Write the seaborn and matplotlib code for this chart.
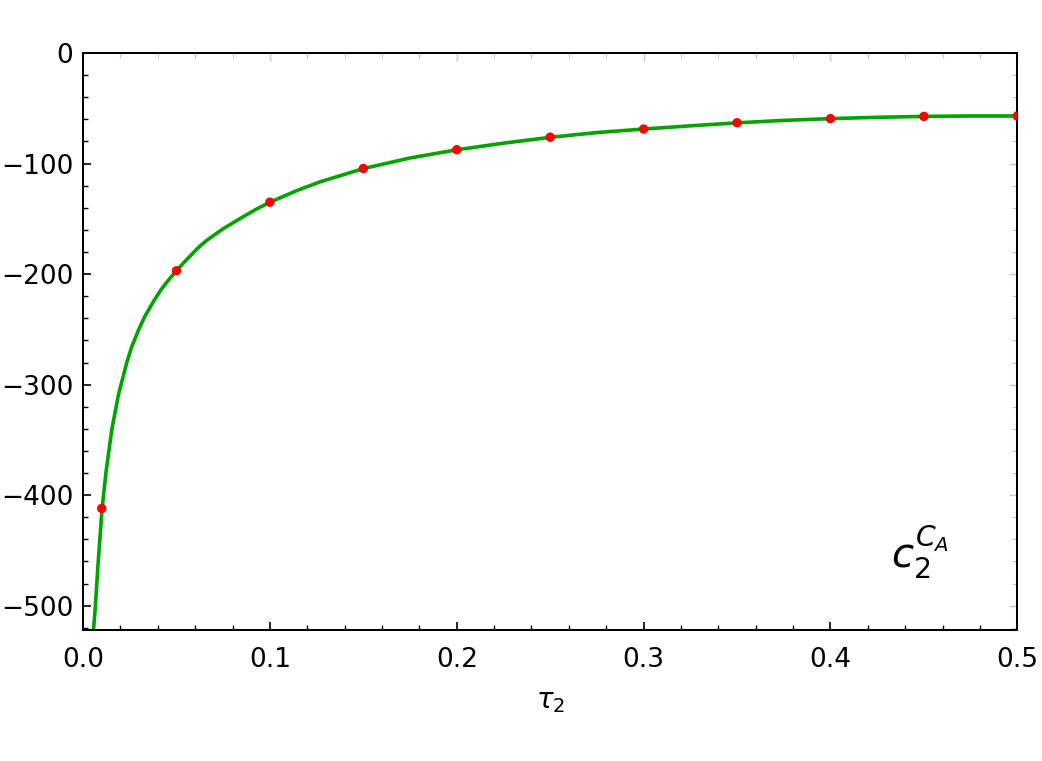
import matplotlib
matplotlib.use("Agg")
import matplotlib.pyplot as plt
import seaborn as sns
import pandas as pd
from matplotlib.ticker import MultipleLocator, FuncFormatter

# curve values
curve_tau = [0.0056, 0.0066, 0.0080, 0.0102, 0.0123, 0.0154, 0.0189, 0.0234,
             0.0260, 0.0296, 0.0330, 0.0376, 0.0420, 0.0466, 0.050, 0.0540,
             0.0580, 0.0620, 0.0662, 0.0750, 0.084, 0.092, 0.100, 0.1144,
             0.127, 0.150, 0.175, 0.200, 0.225, 0.250, 0.275, 0.300, 0.325,
             0.350, 0.375, 0.400, 0.425, 0.450, 0.475, 0.500]
curve_val = [-522, -500, -463, -412, -379, -340.5, -309.5, -280,
             -266, -251, -238.5, -225, -213.5, -203.6, -197, -189.5,
             -182.5, -175.5, -169.5, -159, -149.8, -142, -135, -124.5,
             -116.5, -104.6, -95.0, -87.6, -81.6, -76.3, -72.0, -68.8, -65.9,
             -63.2, -61.0, -59.4, -58.2, -57.4, -57.0, -57.0]

# red points
pts_tau = [0.01, 0.05, 0.10, 0.15, 0.20, 0.25, 0.30, 0.35, 0.40, 0.45, 0.50]
pts_val = [-412, -197, -135, -104.5, -87.5, -76.2, -68.8, -63.1, -59.4, -57.4, -57]

sns.set_theme(style="ticks")
plt.rcParams['font.family'] = ['DejaVu Sans']
plt.rcParams['mathtext.fontset'] = 'dejavusans'
plt.rcParams['text.color'] = 'black'
plt.rcParams['axes.labelcolor'] = 'black'

fig = plt.figure(figsize=(10.42, 7.61), dpi=100)
ax = fig.add_axes([0.0797, 0.1721, 0.8966, 0.7583])

curve_df = pd.DataFrame({"tau": curve_tau, "val": curve_val})
pts_df = pd.DataFrame({"tau": pts_tau, "val": pts_val})

sns.lineplot(data=curve_df, x="tau", y="val", ax=ax, color="#00a300",
             linewidth=2.6, sort=True, estimator=None)
sns.scatterplot(data=pts_df, x="tau", y="val", ax=ax, color="#ff0000",
                s=46, edgecolor="none", zorder=5)

ax.set_xlim(0, 0.5)
ax.set_ylim(-522, 0)
ax.xaxis.set_major_locator(MultipleLocator(0.1))
ax.xaxis.set_minor_locator(MultipleLocator(0.02))
ax.yaxis.set_major_locator(MultipleLocator(100))
ax.yaxis.set_minor_locator(MultipleLocator(20))
ax.xaxis.set_major_formatter(FuncFormatter(lambda v, p: f"{v:.1f}"))
ax.yaxis.set_major_formatter(FuncFormatter(lambda v, p: f"{int(round(v))}".replace("-", "\u2212")))

for s in ax.spines.values():
    s.set_linewidth(1.45)
    s.set_color("black")

ax.tick_params(axis="both", which="both", direction="in", bottom=True, left=True,
               top=False, right=False, colors="black", labelsize=19)
ax.tick_params(which="major", length=6, width=1.2)
ax.tick_params(which="minor", length=3.6, width=1.0)
ax.tick_params(axis="x", which="both", pad=12)
ax.tick_params(axis="y", which="both", pad=7)

# light grey mirrored ticks on top and right
ax_top = ax.secondary_xaxis("top")
ax_top.xaxis.set_major_locator(MultipleLocator(0.1))
ax_top.xaxis.set_minor_locator(MultipleLocator(0.02))
ax_top.tick_params(which="both", direction="in", labeltop=False, color="#c8c8c8")
ax_top.tick_params(which="major", length=6, width=1.0)
ax_top.tick_params(which="minor", length=3.6, width=0.8)
ax_top.spines["top"].set_visible(False)
ax_right = ax.secondary_yaxis("right")
ax_right.yaxis.set_major_locator(MultipleLocator(100))
ax_right.yaxis.set_minor_locator(MultipleLocator(20))
ax_right.tick_params(which="both", direction="in", labelright=False, color="#c8c8c8")
ax_right.tick_params(which="major", length=6, width=1.0)
ax_right.tick_params(which="minor", length=3.6, width=0.8)
ax_right.spines["right"].set_visible(False)

ax.set_xlabel(r"$\tau_2$", fontsize=20, labelpad=10, color="black")
ax.set_ylabel("")

ax.text(0.448, -452, r"$c_2^{C_A}$", fontsize=29, ha="center", va="center",
        color="black")

fig.savefig("out.png", dpi=100)
